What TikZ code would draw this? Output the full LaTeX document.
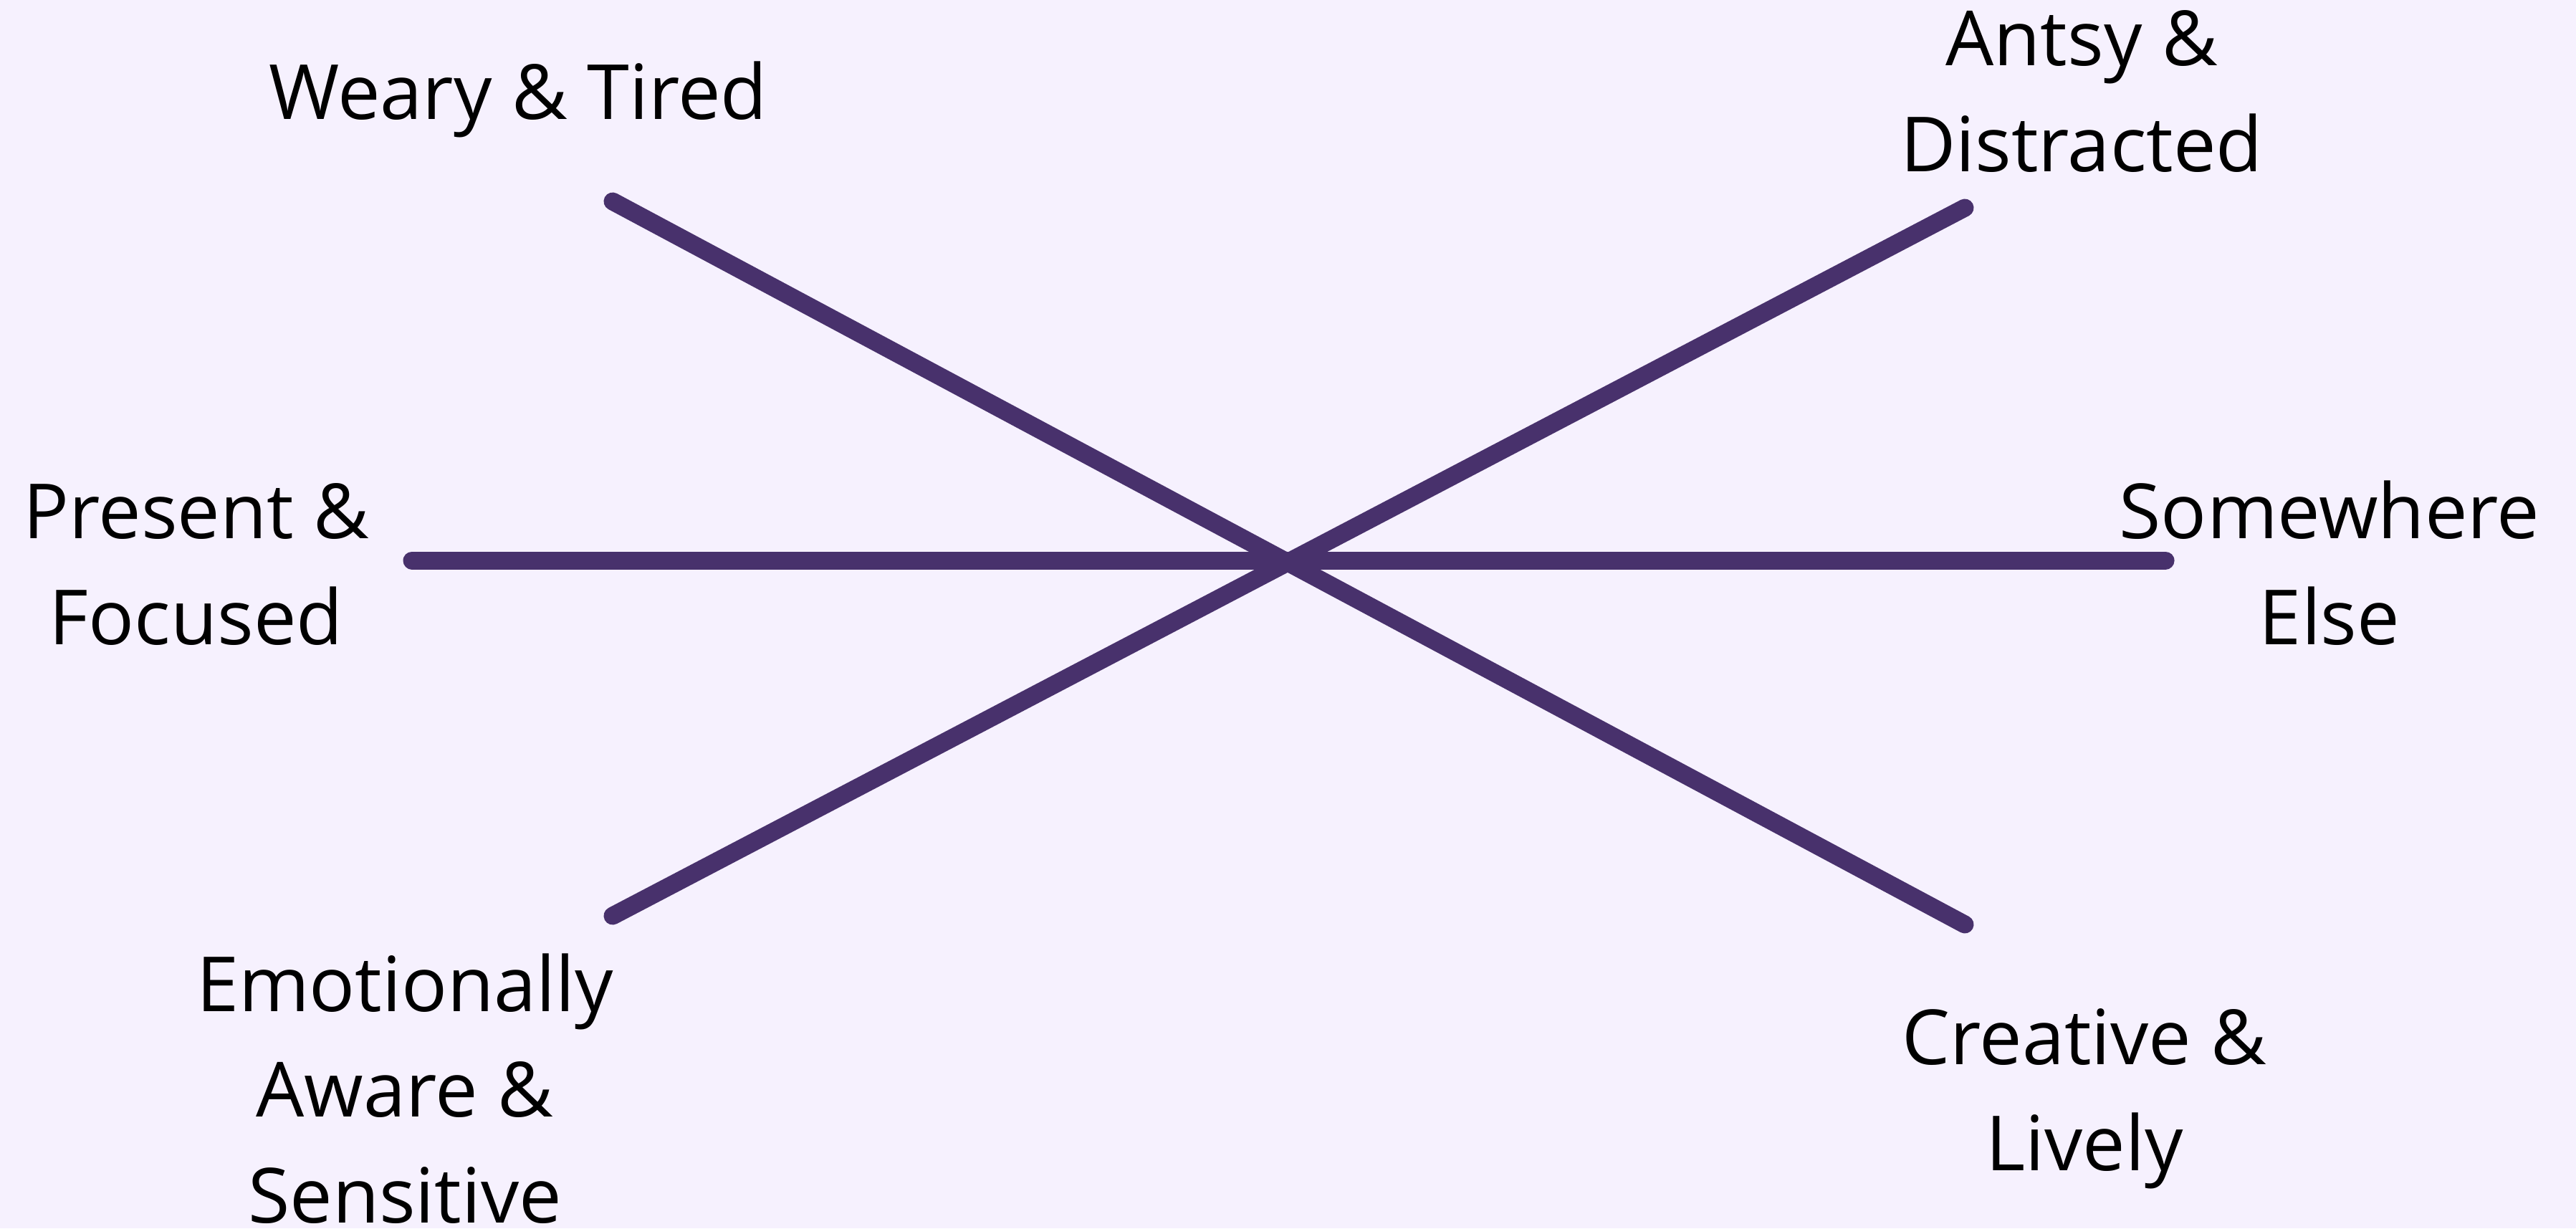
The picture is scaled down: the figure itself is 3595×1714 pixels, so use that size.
\documentclass[tikz,border=0pt]{standalone}
\usepackage{fontspec}
\setmainfont{Open Sans}
\definecolor{bgcol}{HTML}{F6F1FE}
\definecolor{linecol}{HTML}{48316C}
\begin{document}
\begin{tikzpicture}[x=0.01cm,y=-0.01cm,
  axisline/.style={draw=linecol,line width=0.25cm,line cap=round},
  lbl/.style={inner sep=0pt,align=center,anchor=base,text=black,font=\fontsize{30.2}{41.9}\selectfont}]
  \fill[bgcol] (0,0) rectangle (3595,1714);
  \useasboundingbox (0,0) rectangle (3595,1714);
  % end points
  \coordinate (wt) at (855,281);
  \coordinate (cl) at (2742,1290);
  \coordinate (ea) at (855,1278);
  \coordinate (ad) at (2742,290);
  \coordinate (pf) at (575,782);
  \coordinate (se) at (3022,782);
  % lines
  \draw[axisline] (wt) -- (cl);
  \draw[axisline] (ea) -- (ad);
  \draw[axisline] (pf) -- (se);
  % labels (base anchor = baseline of last line)
  \node[lbl] (weary) at (723,166) {Weary \& Tired};
  \node[lbl] (antsy) at (2905,239) {Antsy \&\\Distracted};
  \node[lbl] (present) at (274,899) {Present \&\\Focused};
  \node[lbl] (somewhere) at (3251,899) {Somewhere\\Else};
  \node[lbl] (emo) at (565,1706) {Emotionally\\Aware \&\\Sensitive};
  \node[lbl] (creative) at (2909,1633) {Creative \&\\Lively};
\end{tikzpicture}
\end{document}
